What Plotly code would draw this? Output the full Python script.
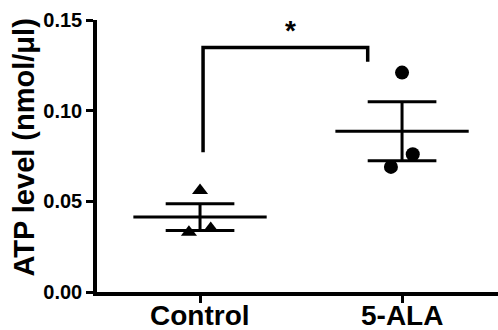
import numpy as np
import plotly.graph_objects as go

categories = ["Control", "5-ALA"]
control_values = [0.056, 0.033, 0.035]
ala_values = [0.121, 0.069, 0.076]
point_offsets = [0.0, -0.055, 0.053]
y_ticks = [0.00, 0.05, 0.10, 0.15]
y_tick_labels = ["0.00", "0.05", "0.10", "0.15"]
y_title = "ATP level (nmol/μl)"
significance_label = "*"

FONT = "Liberation Sans, Arial, sans-serif"
groups = [control_values, ala_values]
symbols = ["triangle-up", "circle"]
sizes = [14, 14]

fig = go.Figure()

for i, (vals, sym, sz) in enumerate(zip(groups, symbols, sizes)):
    vals = np.array(vals)
    mean = vals.mean()
    sem = vals.std(ddof=1) / np.sqrt(len(vals))
    fig.add_trace(go.Scatter(x=[i - 0.33, i + 0.33], y=[mean, mean], mode="lines",
                             line=dict(color="black", width=3), showlegend=False, hoverinfo="skip"))
    for v in (mean - sem, mean + sem):
        fig.add_trace(go.Scatter(x=[i - 0.17, i + 0.17], y=[v, v], mode="lines",
                                 line=dict(color="black", width=3), showlegend=False, hoverinfo="skip"))
    fig.add_trace(go.Scatter(x=[i, i], y=[mean - sem, mean + sem], mode="lines",
                             line=dict(color="black", width=3), showlegend=False, hoverinfo="skip"))
    fig.add_trace(go.Scatter(x=[i + o for o in point_offsets], y=vals, mode="markers",
                             marker=dict(symbol=sym, size=sz, color="black", line=dict(width=0)),
                             showlegend=False))

# significance bracket
bracket_x = [0.015, 0.015, 0.83, 0.83]
bracket_y = [0.077, 0.1348, 0.1348, 0.127]
fig.add_trace(go.Scatter(x=bracket_x, y=bracket_y, mode="lines",
                         line=dict(color="black", width=3.5), showlegend=False, hoverinfo="skip"))
fig.add_annotation(x=0.45, y=0.1348, text=significance_label, showarrow=False, yanchor="bottom",
                   yshift=0, font=dict(family=FONT, size=28, color="black", weight="bold"))

# category labels
for i, c in enumerate(categories):
    fig.add_annotation(x=i, y=0, xref="x", yref="paper", text=c, showarrow=False,
                       yanchor="top", yshift=-6,
                       font=dict(family=FONT, size=28, color="black", weight="bold"))

# y title
fig.add_annotation(x=0, y=0.531, xref="paper", yref="paper", text=y_title, showarrow=False,
                   textangle=-90, xanchor="right", yanchor="middle", xshift=-55,
                   font=dict(family=FONT, size=29, color="black", weight="bold"))

fig.update_layout(
    width=498, height=330,
    margin=dict(l=97, r=0, t=20, b=38),
    plot_bgcolor="white", paper_bgcolor="white",
    xaxis=dict(range=[-0.51, 1.475], tickmode="array", tickvals=[0, 1], showticklabels=False,
               showline=True, linecolor="black", linewidth=3.5, ticks="outside", ticklen=7,
               tickwidth=3, tickcolor="black", showgrid=False, zeroline=False, automargin=False),
    yaxis=dict(range=[0, 0.15], tickmode="array", tickvals=y_ticks, ticktext=y_tick_labels,
               showline=True, linecolor="black", linewidth=3.5, ticks="outside", ticklen=7,
               tickwidth=3, tickcolor="black", showgrid=False, zeroline=False, automargin=False,
               tickfont=dict(family=FONT, size=20, color="black", weight="bold")),
)

fig.write_html("out.html", config={"displayModeBar": False},
               post_script="document.body.style.margin='0';document.body.style.overflow='hidden';")
